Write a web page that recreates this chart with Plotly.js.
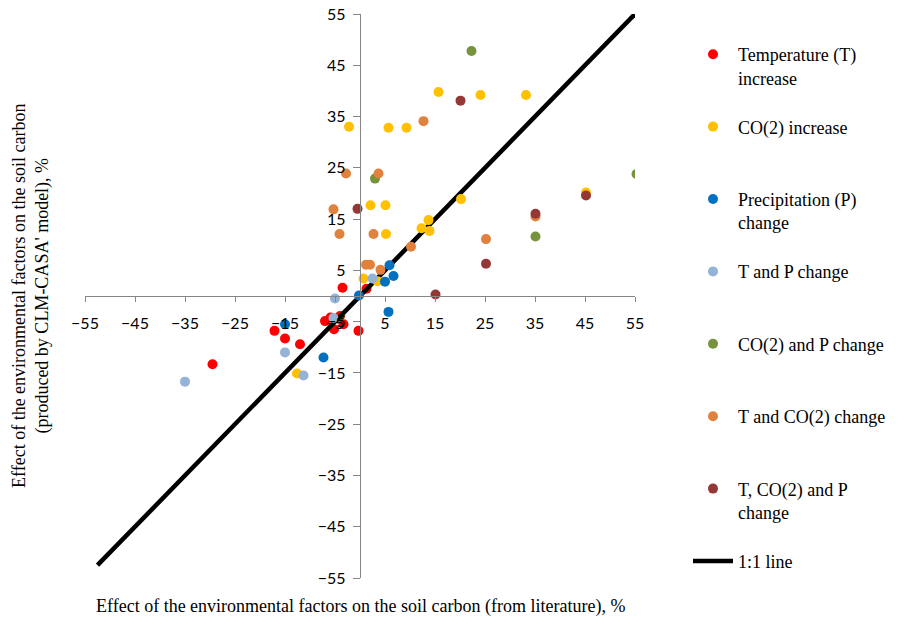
<!DOCTYPE html>
<html>
<head>
<meta charset="utf-8">
<script src="https://cdn.plot.ly/plotly-3.0.1.min.js"></script>
<style>html,body{margin:0;padding:0;background:#fff;}#chart{width:902px;height:617px;}</style>
</head>
<body>
<div id="chart"></div>
<script>
// Series: [literature effect (x), model effect (y)], %
const tempX = [-29.5, -17.1, -15, -12, -7, -5.9, -4, -3.3, -5.2, -0.3, -3.5, 1.3];
const tempY = [-13.3, -6.8, -8.3, -9.4, -4.9, -4.2, -3.9, -5.5, -6.5, -6.8, 1.6, 1.4];

const co2X = [-2.2, 5.7, 9.3, 15.7, 24.1, 33.2, 45.2, 20.2, 13.7, 12.3, 13.9, 2.1, 5.1, 5.2, 0.7, 3.5, -12.6];
const co2Y = [33, 32.8, 32.8, 39.8, 39.2, 39.2, 20.2, 18.9, 14.8, 13.2, 12.7, 17.7, 17.7, 12.1, 3.4, 2.9, -15.1];

const precX = [5.9, 6.7, 5.0, -0.2, 5.7, -15, -7.3];
const precY = [6.0, 3.9, 2.8, 0.1, -3.1, -5.5, -12.0];

const tpX = [-35, -15, -11.3, -5, 2.5, -5.3];
const tpY = [-16.7, -11, -15.5, -0.5, 3.4, -4.3];

const co2pX = [22.3, 55.3, 35.1, 3];
const co2pY = [47.8, 23.8, 11.6, 22.9];

const tco2X = [-2.8, 3.7, -5.3, -4.1, 2.7, 12.7, 10.2, 25.2, 35.1, 1.2, 2.0, 4.1];
const tco2Y = [23.9, 23.9, 16.9, 12.1, 12.1, 34.1, 9.6, 11.1, 15.5, 6.1, 6.1, 5.1];

const tco2pX = [20.1, -0.5, 45.2, 35.1, 25.2, 15.1];
const tco2pY = [38.1, 17, 19.6, 16.05, 6.3, 0.3];

const lineX = [-52.5, 55];
const lineY = [-52.5, 55];

const names = [
  'Temperature (T)<br>increase',
  'CO(2) increase<br> ',
  'Precipitation (P)<br>change',
  'T and P change<br> ',
  'CO(2) and P change<br> ',
  'T and CO(2) change<br> ',
  'T, CO(2) and P<br>change',
  '1:1 line'
];
const colors = ['#FF0000', '#FFC000', '#0070C0', '#95B3D7', '#77933C', '#E0823D', '#953735', '#000000'];

function pts(x, y, i) {
  return {
    x: x, y: y, type: 'scatter', mode: 'markers', name: names[i],
    legendgroup: 'g' + i, legendrank: i + 1,
    marker: {color: colors[i], size: 10},
    hoverinfo: 'x+y'
  };
}

const data = [
  pts(tempX, tempY, 0),
  {x: lineX, y: lineY, type: 'scatter', mode: 'lines', name: names[7],
   legendgroup: 'g7', legendrank: 8, line: {color: colors[7], width: 4.5}},
  pts(co2X, co2Y, 1),
  pts(precX, precY, 2),
  pts(tpX, tpY, 3),
  pts(co2pX, co2pY, 4),
  pts(tco2X, tco2Y, 5),
  pts(tco2pX, tco2pY, 6)
];

const tickFont = {family: 'Lato, "Liberation Sans", sans-serif', size: 16, color: '#000'};
const serif = '"Liberation Serif", "Times New Roman", serif';

const layout = {
  width: 902, height: 617,
  margin: {l: 85, r: 267, t: 14, b: 39},
  paper_bgcolor: '#fff', plot_bgcolor: '#fff',
  showlegend: true,
  xaxis: {
    range: [-55, 55], tick0: -55, dtick: 10, tickmode: 'linear',
    showgrid: false, zeroline: false, showline: true,
    linecolor: '#868686', linewidth: 1.3,
    ticks: 'outside', ticklen: 5, tickcolor: '#868686', tickwidth: 1.3,
    anchor: 'free', position: 0.5,
    tickfont: tickFont, ticklabelstandoff: 8
  },
  yaxis: {
    range: [-55, 55], tick0: -55, dtick: 10, tickmode: 'linear',
    showgrid: false, zeroline: false, showline: true,
    linecolor: '#868686', linewidth: 1.3,
    ticks: 'outside', ticklen: 7, tickcolor: '#868686', tickwidth: 1.3,
    anchor: 'free', position: 0.5,
    tickfont: tickFont, ticklabelstandoff: 4
  },
  legend: {
    xref: 'container', yref: 'container',
    x: 688 / 902, y: 1 - 36 / 617, xanchor: 'left', yanchor: 'top',
    font: {family: serif, size: 18, color: '#000'},
    bgcolor: 'rgba(0,0,0,0)', borderwidth: 0,
    valign: 'top', itemwidth: 40, tracegroupgap: 22.6,
    traceorder: 'grouped', maxheight: 600
  },
  annotations: [
    {
      text: 'Effect of the environmental factors on the soil carbon (from literature), %',
      xref: 'paper', yref: 'paper', x: 0.5, y: (578 - 606) / 564,
      xanchor: 'center', yanchor: 'middle', showarrow: false,
      font: {family: serif, size: 18, color: '#000'}
    },
    {
      text: 'Effect of the environmental factors on the soil carbon<br>(produced by CLM-CASA\' model), %',
      xref: 'paper', yref: 'paper', x: (31 - 85) / 550, y: 0.5,
      xanchor: 'center', yanchor: 'middle', textangle: -90, showarrow: false,
      font: {family: serif, size: 18, color: '#000'}
    }
  ]
};

Plotly.newPlot('chart', data, layout, {displayModeBar: false, responsive: false});
</script>
</body>
</html>
